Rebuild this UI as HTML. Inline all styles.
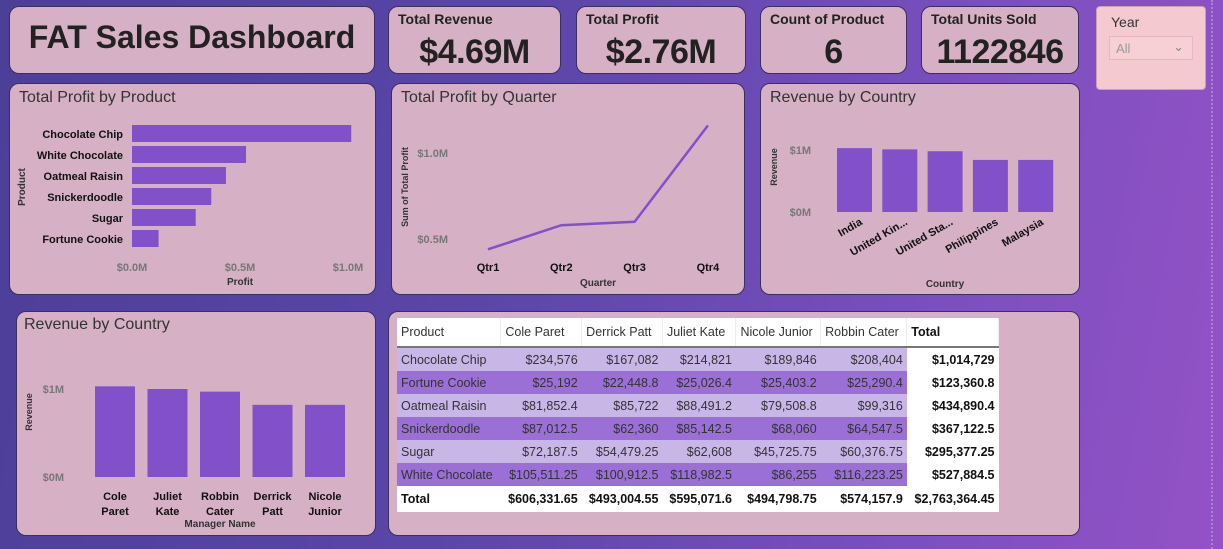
<!DOCTYPE html>
<html><head><meta charset="utf-8">
<style>
html,body{margin:0;padding:0}
body{width:1223px;height:549px;overflow:hidden;position:relative;font-family:"Liberation Sans Narrow","Liberation Sans",sans-serif;
background:linear-gradient(100deg,#4c3f98 0%,#5a46a8 40%,#7a4fbf 75%,#9452c6 100%);}
.card{position:absolute;background:#d6b0c4;border-radius:10px;border:1px solid #3b2f5e;box-sizing:border-box}
.kt{position:absolute;left:9px;top:4px;font-size:14px;font-weight:bold;color:#222}
.kv{position:absolute;left:0;right:0;top:26px;text-align:center;font-size:34px;font-weight:bold;color:#222;letter-spacing:-0.5px}
.ct{position:absolute;left:9px;top:5px;font-size:16px;color:#333}
svg{position:absolute;left:0;top:0}
table{position:absolute;left:397px;top:318px;width:602px;border-collapse:collapse;font-family:"Liberation Sans",sans-serif;font-size:12.5px;color:#333}
td{height:23px;padding:0 4px;white-space:nowrap}
th{height:28px;padding:0 4px;text-align:left;font-weight:normal;background:#fff;border-right:1px solid #eee;border-bottom:2px solid #777}
tr.l td{background:#c8b6e6}tr.d td{background:#9a70d6}
td.n{text-align:right}td.t{background:#fff!important;font-weight:bold;text-align:right;color:#111}
tr.tot td{background:#fff;font-weight:bold;text-align:right;color:#111;height:26px}
</style></head><body>
<div class="card" style="left:9px;top:6px;width:366px;height:68px"><div style="position:absolute;left:0;right:0;top:12px;text-align:center;font-size:32px;font-weight:bold;color:#222;font-family:'Liberation Sans',sans-serif">FAT Sales Dashboard</div></div>
<div class="card" style="left:388px;top:6px;width:173px;height:68px"><div class="kt">Total Revenue</div><div class="kv">$4.69M</div></div>
<div class="card" style="left:576px;top:6px;width:170px;height:68px"><div class="kt">Total Profit</div><div class="kv">$2.76M</div></div>
<div class="card" style="left:760px;top:6px;width:147px;height:68px"><div class="kt">Count of Product</div><div class="kv">6</div></div>
<div class="card" style="left:921px;top:6px;width:158px;height:68px"><div class="kt">Total Units Sold</div><div class="kv">1122846</div></div>
<div class="card" style="left:1096px;top:6px;width:110px;height:84px;background:#f5c9d0;border-color:#c9a0b0;border-radius:4px">
<div style="position:absolute;left:14px;top:7px;font-size:14px;color:#333">Year</div>
<div style="position:absolute;left:12px;top:29px;width:84px;height:24px;border:1px solid #e8b8c0;background:#f7d0d6;box-sizing:border-box"><span style="position:absolute;left:6px;top:4px;font-size:13px;color:#999">All</span><span style="position:absolute;right:8px;top:2px;font-size:13px;color:#888">&#8964;</span></div></div>
<div class="card" style="left:9px;top:83px;width:367px;height:212px"><div class="ct">Total Profit by Product</div></div>
<div class="card" style="left:391px;top:83px;width:354px;height:212px"><div class="ct">Total Profit by Quarter</div></div>
<div class="card" style="left:760px;top:83px;width:320px;height:212px"><div class="ct">Revenue by Country</div></div>
<div class="card" style="left:16px;top:311px;width:360px;height:225px"><div class="ct" style="left:7px;top:4px">Revenue by Country</div></div>
<div class="card" style="left:388px;top:311px;width:692px;height:225px"></div>
<div style="position:absolute;left:1211px;top:0;height:549px;border-left:2px dotted #b080d8"></div>

<table>
<tr><th>Product</th><th>Cole Paret</th><th>Derrick Patt</th><th>Juliet Kate</th><th>Nicole Junior</th><th>Robbin Cater</th><th style="font-weight:bold;color:#111">Total</th></tr>
<tr class="l"><td>Chocolate Chip</td><td class="n">$234,576</td><td class="n">$167,082</td><td class="n">$214,821</td><td class="n">$189,846</td><td class="n">$208,404</td><td class="t">$1,014,729</td></tr>
<tr class="d"><td>Fortune Cookie</td><td class="n">$25,192</td><td class="n">$22,448.8</td><td class="n">$25,026.4</td><td class="n">$25,403.2</td><td class="n">$25,290.4</td><td class="t">$123,360.8</td></tr>
<tr class="l"><td>Oatmeal Raisin</td><td class="n">$81,852.4</td><td class="n">$85,722</td><td class="n">$88,491.2</td><td class="n">$79,508.8</td><td class="n">$99,316</td><td class="t">$434,890.4</td></tr>
<tr class="d"><td>Snickerdoodle</td><td class="n">$87,012.5</td><td class="n">$62,360</td><td class="n">$85,142.5</td><td class="n">$68,060</td><td class="n">$64,547.5</td><td class="t">$367,122.5</td></tr>
<tr class="l"><td>Sugar</td><td class="n">$72,187.5</td><td class="n">$54,479.25</td><td class="n">$62,608</td><td class="n">$45,725.75</td><td class="n">$60,376.75</td><td class="t">$295,377.25</td></tr>
<tr class="d"><td>White Chocolate</td><td class="n">$105,511.25</td><td class="n">$100,912.5</td><td class="n">$118,982.5</td><td class="n">$86,255</td><td class="n">$116,223.25</td><td class="t">$527,884.5</td></tr>
<tr class="tot"><td style="text-align:left">Total</td><td>$606,331.65</td><td>$493,004.55</td><td>$595,071.6</td><td>$494,798.75</td><td>$574,157.9</td><td>$2,763,364.45</td></tr>
</table>

<svg id="charts" width="1223" height="549" font-family="Liberation Sans, sans-serif"></svg>
<script>
const products=["Chocolate Chip","White Chocolate","Oatmeal Raisin","Snickerdoodle","Sugar","Fortune Cookie"];
const productProfit=[1.015,0.528,0.435,0.367,0.295,0.123];
const profitTicks=[0,0.5,1.0];
const profitTickLabels=["$0.0M","$0.5M","$1.0M"];
const quarters=["Qtr1","Qtr2","Qtr3","Qtr4"];
const quarterProfit=[0.44,0.58,0.60,1.16];
const quarterTicks=[0.5,1.0];
const quarterTickLabels=["$0.5M","$1.0M"];
const countries=["India","United Kin...","United Sta...","Philippines","Malaysia"];
const countryRevenue=[1.03,1.01,0.98,0.84,0.84];
const managers=[["Cole","Paret"],["Juliet","Kate"],["Robbin","Cater"],["Derrick","Patt"],["Nicole","Junior"]];
const managerRevenue=[1.03,1.0,0.97,0.82,0.82];
const revTicks=[0,1];
const revTickLabels=["$0M","$1M"];

const svg=document.getElementById('charts');const NS="http://www.w3.org/2000/svg";
const C="#8250c8";
function mk(t,a,txt){const e=document.createElementNS(NS,t);for(const k in a)e.setAttribute(k,a[k]);if(txt!==undefined)e.textContent=txt;svg.appendChild(e);return e;}

// Chart 1: horizontal bars
const x1=v=>132+v*216;
products.forEach((p,i)=>{const y=125+i*21;
 const b=mk('rect',{x:x1(0),y:y,width:x1(productProfit[i])-x1(0),height:17,fill:C});
 
 const t=mk('text',{x:123,y:y+13,'text-anchor':'end','font-size':11,'font-weight':'bold',fill:'#111'},p);
 });
profitTicks.forEach((v,i)=>{const t=mk('text',{x:x1(v),y:271,'text-anchor':'middle','font-size':11,'font-weight':'bold',fill:'#777'},profitTickLabels[i]);
 });
let t1=mk('text',{x:240,y:285,'text-anchor':'middle','font-size':10,'font-weight':'bold',fill:'#333'},'Profit');
t1=mk('text',{x:0,y:0,transform:'translate(25,187) rotate(-90)','text-anchor':'middle','font-size':10,'font-weight':'bold',fill:'#333'},'Product');

// Chart 2: line
const qx=i=>488+i*73.3, qy=v=>239-(v-0.5)*172;
const pts=quarterProfit.map((v,i)=>qx(i)+','+qy(v)).join(' ');
const ln=mk('polyline',{points:pts,fill:'none',stroke:C,'stroke-width':2.5});
quarters.forEach((q,i)=>{const t=mk('text',{x:qx(i),y:271,'text-anchor':'middle','font-size':11,'font-weight':'bold',fill:'#111'},q);});
quarterTicks.forEach((v,i)=>{const t=mk('text',{x:448,y:qy(v)+4,'text-anchor':'end','font-size':11,'font-weight':'bold',fill:'#777'},quarterTickLabels[i]);});
t1=mk('text',{x:598,y:286,'text-anchor':'middle','font-size':10,'font-weight':'bold',fill:'#333'},'Quarter');
t1=mk('text',{x:0,y:0,transform:'translate(408,187) rotate(-90)','text-anchor':'middle','font-size':9,'font-weight':'bold',fill:'#333'},'Sum of Total Profit');

// Chart 3: country columns
const cy=v=>212-v*62;
countries.forEach((c,i)=>{const x=837+i*45.3;
 const b=mk('rect',{x:x,y:cy(countryRevenue[i]),width:35,height:cy(0)-cy(countryRevenue[i]),fill:C});
 
 const t=mk('text',{x:0,y:0,transform:`translate(${x+26},${224}) rotate(-30)`,'text-anchor':'end','font-size':11,'font-weight':'bold',fill:'#111'},c);
 });
revTicks.forEach((v,i)=>{const t=mk('text',{x:811,y:cy(v)+4,'text-anchor':'end','font-size':11,'font-weight':'bold',fill:'#777'},revTickLabels[i]);});
t1=mk('text',{x:945,y:287,'text-anchor':'middle','font-size':10,'font-weight':'bold',fill:'#333'},'Country');
t1=mk('text',{x:0,y:0,transform:'translate(777,167) rotate(-90)','text-anchor':'middle','font-size':9,'font-weight':'bold',fill:'#333'},'Revenue');

// Chart 4: manager columns
const my=v=>477-v*88;
managers.forEach((m,i)=>{const x=95+i*52.5;
 const b=mk('rect',{x:x,y:my(managerRevenue[i]),width:40,height:my(0)-my(managerRevenue[i]),fill:C});
 
 const t=mk('text',{x:x+20,y:500,'text-anchor':'middle','font-size':11,'font-weight':'bold',fill:'#111'},m[0]);
 const t2=mk('text',{x:x+20,y:515,'text-anchor':'middle','font-size':11,'font-weight':'bold',fill:'#111'},m[1]);});
revTicks.forEach((v,i)=>{const t=mk('text',{x:64,y:my(v)+4,'text-anchor':'end','font-size':11,'font-weight':'bold',fill:'#777'},revTickLabels[i]);});
t1=mk('text',{x:220,y:527,'text-anchor':'middle','font-size':10,'font-weight':'bold',fill:'#333'},'Manager Name');
t1=mk('text',{x:0,y:0,transform:'translate(32,412) rotate(-90)','text-anchor':'middle','font-size':9,'font-weight':'bold',fill:'#333'},'Revenue');
</script>
</body></html>
